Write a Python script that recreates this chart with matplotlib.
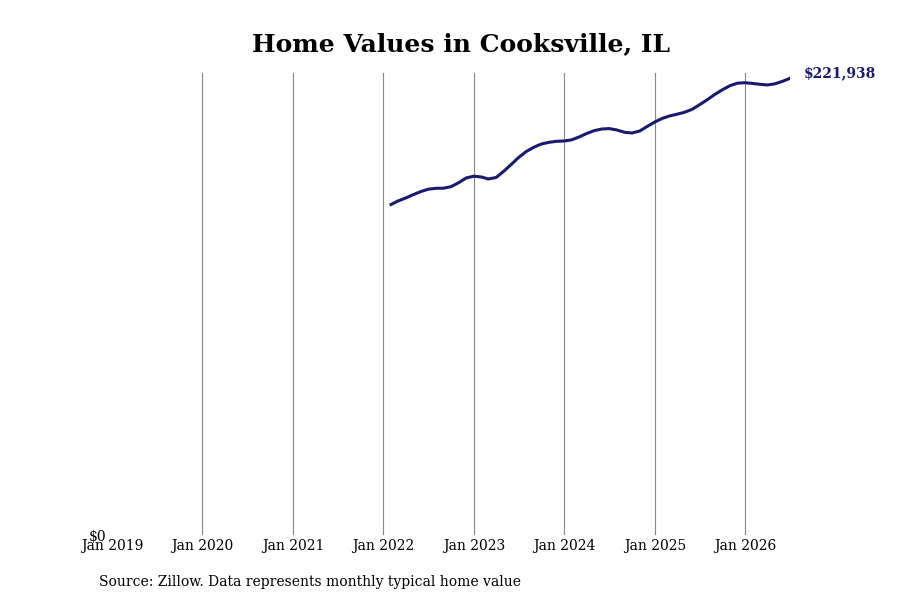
import pandas as pd
import matplotlib
matplotlib.use("Agg")
import matplotlib.pyplot as plt
import matplotlib.dates as mdates
from matplotlib.ticker import FixedLocator

plt.rcParams['font.family'] = ['DejaVu Serif']

# monthly typical home value, Feb 2022 .. Jul 2026
dates = pd.date_range("2022-02-01", "2026-07-01", freq="MS")
values = [
    160610, 162311, 163768, 165372, 166879, 168045, 168482, 168531, 169260, 171204, 173488,
    174363, 173974, 173002, 173731, 176647, 180048, 183450, 186366, 188455, 190010, 190837, 191323,
    191468, 192052, 193412, 195113, 196474, 197300, 197494, 196814, 195696, 195356, 196328, 198515,
    200702, 202500, 203617, 204492, 205415, 206873, 209109, 211538, 214163, 216349, 218390, 219557,
    219800, 219411, 219022, 218682, 219265, 220480, 221938,
]
title = "Home Values in Cooksville, IL"
source = "Source: Zillow. Data represents monthly typical home value"
line_color = "#191970"

fig = plt.figure(figsize=(9, 6), dpi=100)
ax = fig.add_axes([0.1244, 0.1083, 0.7534, 0.7700])

ax.plot(dates, values, color=line_color, lw=2.2)

ax.set_xlim(pd.Timestamp("2019-01-01"), dates[-1])
ax.set_ylim(0, 224500)

ax.xaxis.set_major_locator(mdates.YearLocator())
ax.xaxis.set_major_formatter(mdates.DateFormatter("Jan %Y"))
ax.yaxis.set_major_locator(FixedLocator([0]))
ax.set_yticklabels(["$0"])

ax.tick_params(axis="x", length=0, labelsize=10, pad=3)
ax.tick_params(axis="y", length=0, labelsize=10, pad=4)

ax.grid(axis="x", color="#888888", lw=0.8)
ax.grid(axis="y", visible=False)
for s in ax.spines.values():
    s.set_visible(False)
# no gridline on the left edge
ax.xaxis.get_gridlines()[0].set_visible(False)

ax.annotate(f"${values[-1]:,}", xy=(dates[-1], values[-1]), xytext=(10, 3.6),
            textcoords="offset points", color=line_color, fontweight="bold",
            fontsize=10, va="center", ha="left", annotation_clip=False)

fig.text(0.512, 0.927, title, ha="center", va="center", fontsize=18, fontweight="bold")
fig.text(0.11, 0.03, source, ha="left", va="center", fontsize=10)

fig.savefig("out.png", dpi=100)
